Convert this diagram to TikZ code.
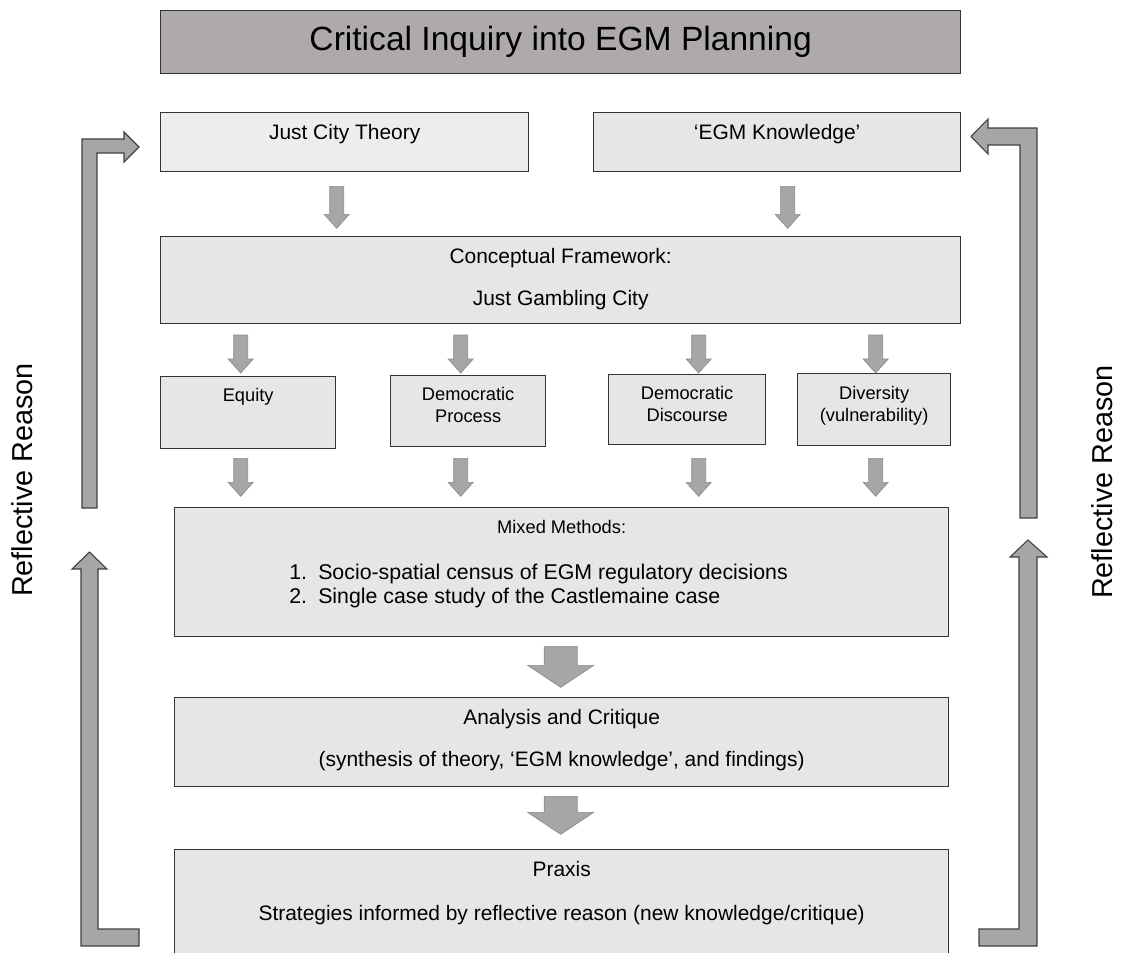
\documentclass[tikz,border=0pt]{standalone}
\usepackage{fontspec}
\setmainfont{Liberation Sans}
\usepackage{xcolor}
\usetikzlibrary{calc}
\definecolor{titlegray}{HTML}{AEAAAA}
\definecolor{boxgray}{HTML}{E6E6E6}
\definecolor{lightbox}{HTML}{EDEDED}
\definecolor{arrowgray}{HTML}{A6A6A6}
\definecolor{arrowedge}{HTML}{8C8C8C}

\begin{document}
\begin{tikzpicture}[x=0.75pt, y=-0.75pt,
    box/.style={draw=black!80, line width=1pt, fill=boxgray, inner sep=0pt, anchor=north west},
    txt/.style={inner sep=0pt, anchor=base, align=center, font=\fontsize{15.7}{18}\selectfont},
    smalltxt/.style={txt, font=\fontsize{13.7}{16.5}\selectfont},
    sidetxt/.style={rotate=90, inner sep=0pt, font=\fontsize{21.6}{24}\selectfont},
    smallarrow/.style={fill=arrowgray, draw=arrowedge, line width=0.5pt},
    bigarrow/.style={fill=arrowgray, draw=black!75, line width=0.8pt, line join=miter},
    pics/dnarrow/.style={code={
      \path[smallarrow] (-7,0) -- (7,0) -- (7,#1-14) -- (12.5,#1-14) -- (0,#1)
        -- (-12.5,#1-14) -- (-7,#1-14) -- cycle;}},
    pics/fatarrow/.style={code={
      \path[smallarrow] (-16.5,0) -- (16.5,0) -- (16.5,#1-22) -- (33,#1-22) -- (0,#1)
        -- (-33,#1-22) -- (-16.5,#1-22) -- cycle;}}]
  \path[use as bounding box, clip] (0,0) rectangle (1121,953);

  % title
  \node[box, fill=titlegray, minimum width=600pt, minimum height=47.25pt] (title) at (160,10) {};
  \node[txt, font=\fontsize{25.2}{28}\selectfont] at ($(title.north)+(0,40)$) {Critical Inquiry into EGM Planning};

  % theory inputs
  \node[box, fill=lightbox, minimum width=276pt, minimum height=44.25pt] (jct) at (160,112) {};
  \node[txt] at ($(jct.north)+(0,27)$) {Just City Theory};
  \node[box, minimum width=275.25pt, minimum height=44.25pt] (egm) at (593,112) {};
  \node[txt] at ($(egm.north)+(0,27)$) {‘EGM Knowledge’};

  \pic at ($(jct.south)+(-8,14)$) {dnarrow=42};
  \pic at ($(egm.south)+(10.5,14)$) {dnarrow=42};

  % framework
  \node[box, minimum width=600pt, minimum height=65.25pt] (cf) at (160,236) {};
  \node[txt] at ($(cf.north)+(0,27)$) {Conceptual Framework:};
  \node[txt] at ($(cf.north)+(0,69)$) {Just Gambling City};

  % four principles
  \node[box, minimum width=131.25pt, minimum height=54pt] (equity) at (160,376) {};
  \node[smalltxt] at ($(equity.north)+(0,25)$) {Equity};
  \node[box, minimum width=116.25pt, minimum height=53.25pt] (dproc) at (390,375) {};
  \node[smalltxt] at ($(dproc.north)+(0,47)$) {Democratic\\Process};
  \node[box, minimum width=117.75pt, minimum height=52.5pt] (ddisc) at (608,374) {};
  \node[smalltxt] at ($(ddisc.north)+(0,47)$) {Democratic\\Discourse};
  \node[box, minimum width=114.75pt, minimum height=54pt] (div) at (797,373) {};
  \node[smalltxt] at ($(div.north)+(0,48)$) {Diversity\\(vulnerability)};

  \pic at ($(equity.north)+(-7.5,-41)$) {dnarrow=38};
  \pic at ($(dproc.north)+(-7.5,-40)$) {dnarrow=38};
  \pic at ($(ddisc.north)+(11.5,-39)$) {dnarrow=38};
  \pic at ($(div.north)+(1.5,-38)$) {dnarrow=38};
  \pic at ($(equity.south)+(-7.5,9)$) {dnarrow=38};
  \pic at ($(dproc.south)+(-7.5,11)$) {dnarrow=38};
  \pic at ($(ddisc.south)+(11.5,13)$) {dnarrow=38};
  \pic at ($(div.south)+(1.5,12)$) {dnarrow=38};

  % methods
  \node[box, minimum width=580.5pt, minimum height=96.75pt] (mm) at (174,507) {};
  \node[smalltxt] at ($(mm.north)+(0,26)$) {Mixed Methods:};
  \node[txt, anchor=base west, font=\fontsize{16}{18}\selectfont] (n1) at (289,579) {1.};
  \node[txt, anchor=base west, font=\fontsize{16}{18}\selectfont] at (318,579) {Socio-spatial census of EGM regulatory decisions};
  \node[txt, anchor=base west, font=\fontsize{16}{18}\selectfont] (n2) at (289,603) {2.};
  \node[txt, anchor=base west, font=\fontsize{16}{18}\selectfont] at (318,603) {Single case study of the Castlemaine case};

  \pic at ($(mm.south)+(-1,9)$) {fatarrow=41};

  % analysis
  \node[box, minimum width=580.5pt, minimum height=66.75pt] (ac) at (174,697) {};
  \node[txt] at ($(ac.north)+(0,27)$) {Analysis and Critique};
  \node[txt] at ($(ac.north)+(0,69)$) {(synthesis of theory, ‘EGM knowledge’, and findings)};

  \pic at ($(ac.south)+(-1,9)$) {fatarrow=38};

  % praxis
  \node[box, minimum width=580.5pt, minimum height=90pt] (praxis) at (174,849) {};
  \node[txt] at ($(praxis.north)+(0,27)$) {Praxis};
  \node[txt] at ($(praxis.north)+(0,71)$) {Strategies informed by reflective reason (new knowledge/critique)};

  % reflective loops
  \path[bigarrow] (82,508) -- (82,139) -- (124,139) -- (124,132) -- (139,147)
    -- (124,162) -- (124,153) -- (97,153) -- (97,508) -- cycle;
  \path[bigarrow] (89.5,552) -- (107,569) -- (98,569) -- (98,929) -- (139,929)
    -- (139,946) -- (81,946) -- (81,569) -- (72,569) -- cycle;
  \path[bigarrow] (971,136.5) -- (988,119) -- (988,128) -- (1037,128) -- (1037,518)
    -- (1020,518) -- (1020,145) -- (988,145) -- (988,154) -- cycle;
  \path[bigarrow] (1028,540) -- (1047,557) -- (1037,557) -- (1037,946) -- (979,946)
    -- (979,929) -- (1019,929) -- (1019,557) -- (1010,557) -- cycle;

  \node[sidetxt] (lreason) at (22,480) {Reflective Reason};
  \node[sidetxt] (rreason) at (1102,482) {Reflective Reason};
\end{tikzpicture}
\end{document}
